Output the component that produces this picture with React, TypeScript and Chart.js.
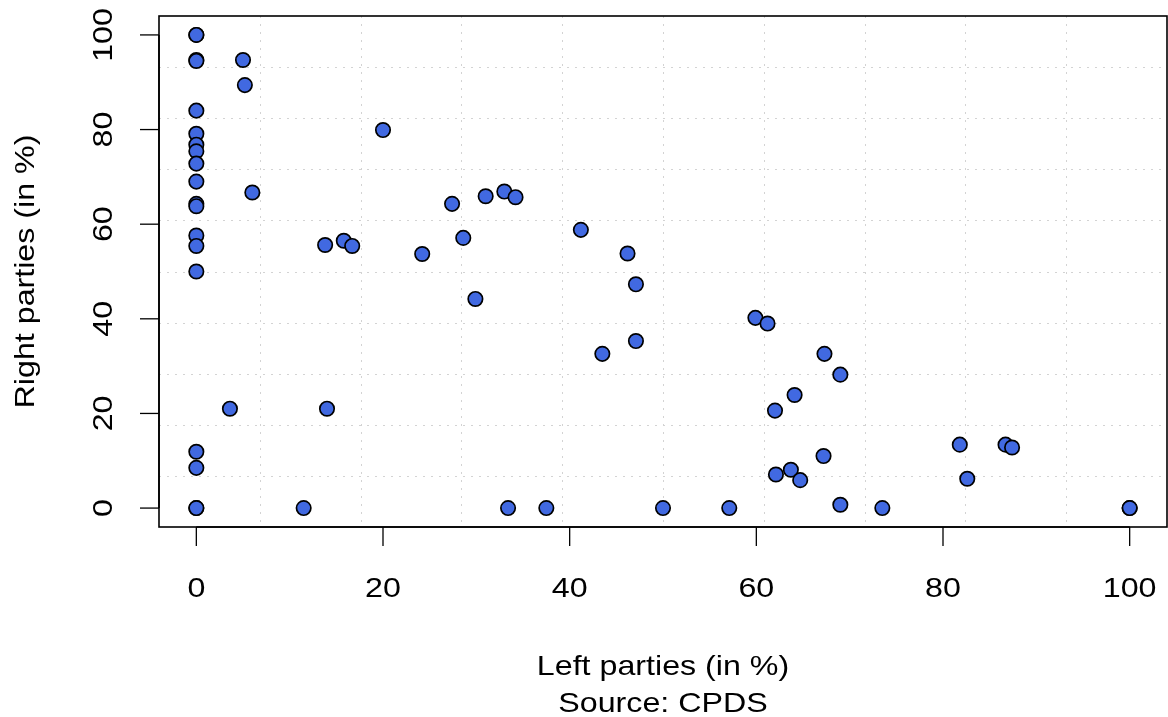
import { useEffect, useRef } from "react";
import { Chart, registerables } from "chart.js";

Chart.register(...registerables);

// Left parties share of cabinet posts (in %)
const leftParties = [
  0, 0, 0, 0, 5.0, 5.2, 0, 0, 0, 0, 0, 0, 0, 0, 20.0, 6.0, 0, 0, 13.8, 15.8,
  16.7, 24.2, 27.4, 31.0, 33.0, 34.2, 28.6, 29.9, 41.2, 46.2, 47.1, 43.5, 47.1,
  59.9, 61.2, 67.3, 69.0, 64.1, 62.0, 67.2, 62.1, 63.7, 64.7, 69.0, 33.4, 37.5,
  50.0, 57.1, 73.5, 100, 100, 81.8, 86.7, 87.4, 82.6, 0, 3.6, 14.0, 0, 0, 0, 0,
  11.5,
];
// Right parties share of cabinet posts (in %)
const rightParties = [
  100, 100, 94.7, 94.5, 94.7, 89.4, 84.0, 79.1, 76.8, 75.4, 72.8, 69.0, 64.3,
  63.8, 79.9, 66.7, 57.6, 55.4, 55.6, 56.5, 55.4, 53.7, 64.3, 65.9, 66.9, 65.7,
  57.1, 44.2, 58.8, 53.8, 47.3, 32.6, 35.3, 40.2, 39.0, 32.6, 28.2, 23.9, 20.6,
  11.0, 7.1, 8.1, 5.9, 0.7, 0, 0, 0, 0, 0, 0, 0, 13.4, 13.4, 12.8, 6.2, 50.0,
  21.0, 21.0, 11.9, 8.5, 0, 0, 0,
];

const xTickValues = [0, 20, 40, 60, 80, 100];
const xTickLabels = ["0", "20", "40", "60", "80", "100"];
const yTickValues = [0, 20, 40, 60, 80, 100];
const yTickLabels = ["0", "20", "40", "60", "80", "100"];
const gridValues = [6.8, 17.6, 28.4, 39.2, 50, 60.8, 71.6, 82.4, 93.2];

const xTitle = "Left parties (in %)";
const caption = "Source: CPDS";
const yTitle = "Right parties (in %)";

const FONT = '28px "Liberation Sans", Arial, sans-serif';
const STRETCH = 1.15;

function drawText(
  ctx: CanvasRenderingContext2D,
  text: string,
  x: number,
  y: number,
  rot: number
) {
  ctx.save();
  ctx.translate(x, y);
  ctx.rotate(rot);
  ctx.scale(STRETCH, 1);
  ctx.textAlign = "center";
  ctx.textBaseline = "alphabetic";
  ctx.fillText(text, 0, 0);
  ctx.restore();
}

const rPlotPlugin = {
  id: "rPlot",
  beforeDatasetsDraw(chart: any) {
    const { ctx, chartArea: a, scales } = chart;
    const x = scales.x;
    const y = scales.y;
    ctx.save();
    ctx.strokeStyle = "#D3D3D3";
    ctx.lineWidth = 1;
    ctx.setLineDash([2, 6]);
    for (const v of gridValues) {
      const px = Math.round(x.getPixelForValue(v)) + 0.5;
      ctx.beginPath();
      ctx.moveTo(px, a.top);
      ctx.lineTo(px, a.bottom);
      ctx.stroke();
      const py = Math.round(y.getPixelForValue(v)) + 0.5;
      ctx.beginPath();
      ctx.moveTo(a.left, py);
      ctx.lineTo(a.right, py);
      ctx.stroke();
    }
    ctx.restore();
  },
  afterDatasetsDraw(chart: any) {
    const { ctx, chartArea: a, scales } = chart;
    const x = scales.x;
    const y = scales.y;
    ctx.save();
    ctx.strokeStyle = "#000";
    ctx.fillStyle = "#000";
    ctx.lineWidth = 1.6;
    ctx.setLineDash([]);
    ctx.strokeRect(a.left, a.top, a.right - a.left, a.bottom - a.top);

    // x axis
    const tickLen = 19;
    ctx.beginPath();
    ctx.moveTo(x.getPixelForValue(xTickValues[0]), a.bottom);
    ctx.lineTo(x.getPixelForValue(xTickValues[xTickValues.length - 1]), a.bottom);
    ctx.stroke();
    ctx.lineWidth = 1.3;
    for (const v of xTickValues) {
      const px = x.getPixelForValue(v);
      ctx.beginPath();
      ctx.moveTo(px, a.bottom);
      ctx.lineTo(px, a.bottom + tickLen);
      ctx.stroke();
    }
    // y axis
    ctx.lineWidth = 1.6;
    ctx.beginPath();
    ctx.moveTo(a.left, y.getPixelForValue(yTickValues[0]));
    ctx.lineTo(a.left, y.getPixelForValue(yTickValues[yTickValues.length - 1]));
    ctx.stroke();
    ctx.lineWidth = 1.3;
    for (const v of yTickValues) {
      const py = y.getPixelForValue(v);
      ctx.beginPath();
      ctx.moveTo(a.left, py);
      ctx.lineTo(a.left - tickLen, py);
      ctx.stroke();
    }

    ctx.font = FONT;
    xTickValues.forEach((v, i) => {
      drawText(ctx, xTickLabels[i], x.getPixelForValue(v), a.bottom + 70, 0);
    });
    yTickValues.forEach((v, i) => {
      drawText(ctx, yTickLabels[i], a.left - 47, y.getPixelForValue(v), -Math.PI / 2);
    });
    const cx = (a.left + a.right) / 2;
    const cy = (a.top + a.bottom) / 2;
    drawText(ctx, xTitle, cx, a.bottom + 148, 0);
    drawText(ctx, caption, cx, a.bottom + 185, 0);
    drawText(ctx, yTitle, 34, cy, -Math.PI / 2);
    ctx.restore();
  },
};

export default function App() {
  const canvasRef = useRef<HTMLCanvasElement | null>(null);

  useEffect(() => {
    const canvas = canvasRef.current;
    if (!canvas) return;
    const points = leftParties.map((v, i) => ({ x: v, y: rightParties[i] }));
    const chart = new Chart(canvas, {
      type: "scatter",
      data: {
        datasets: [
          {
            label: "Cabinet composition",
            data: points,
            backgroundColor: "#4169E1",
            borderColor: "#000000",
            borderWidth: 1.7,
            pointRadius: 7.2,
            pointHoverRadius: 7.2,
          },
        ],
      },
      options: {
        responsive: false,
        animation: false,
        devicePixelRatio: 1,
        layout: {
          autoPadding: false,
          padding: { left: 159, top: 16, right: 1, bottom: 190 },
        },
        plugins: {
          legend: { display: false },
          tooltip: { enabled: false },
        },
        scales: {
          x: { type: "linear", min: -4, max: 104, display: false },
          y: { type: "linear", min: -4, max: 104, display: false },
        },
      },
      plugins: [rPlotPlugin],
    });
    return () => chart.destroy();
  }, []);

  return (
    <div style={{ position: "fixed", left: 0, top: 0, width: 1168, height: 717, background: "#fff" }}>
      <canvas ref={canvasRef} width={1168} height={717} style={{ display: "block" }} />
    </div>
  );
}
